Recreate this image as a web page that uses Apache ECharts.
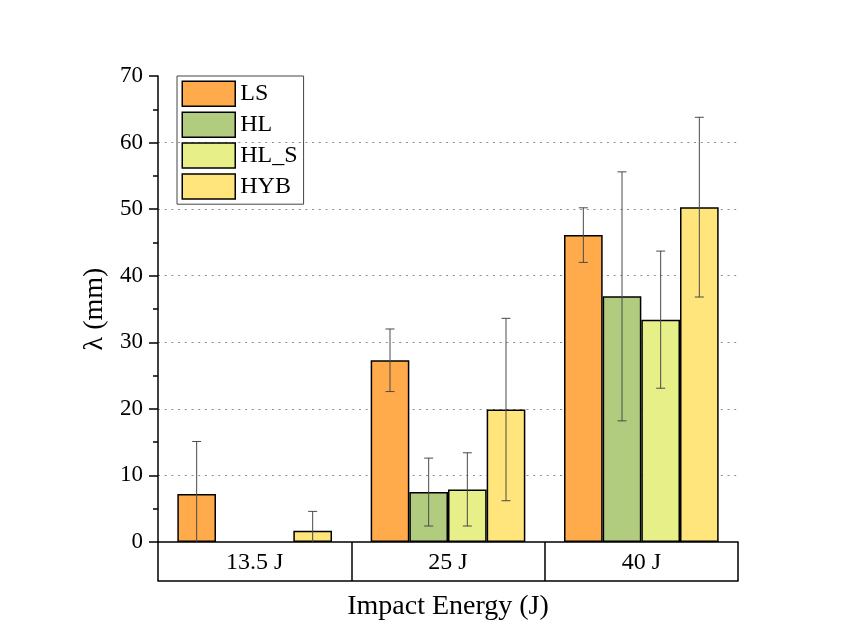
<!DOCTYPE html>
<html>
<head>
<meta charset="utf-8">
<script src="https://cdn.jsdelivr.net/npm/echarts@6/dist/echarts.min.js"></script>
<style>
  html, body { margin: 0; padding: 0; background: #ffffff; }
  #chart { width: 843px; height: 643px; }
</style>
</head>
<body>
<div id="chart"></div>
<script>
// Impact energy groups
const categories = ['13.5 J', '25 J', '40 J'];

// Mean λ (mm) per material, with standard deviation
const seriesNames = ['LS', 'HL', 'HL_S', 'HYB'];
const lsValues   = [7.2, 27.3, 46.1];
const lsErrors   = [7.9, 4.7, 4.1];
const hlValues   = [null, 7.5, 36.9];
const hlErrors   = [null, 5.1, 18.7];
const hlsValues  = [null, 7.9, 33.4];
const hlsErrors  = [null, 5.5, 10.3];
const hybValues  = [1.7, 19.9, 50.3];
const hybErrors  = [2.9, 13.7, 13.5];

const yTicks = [0, 10, 20, 30, 40, 50, 60, 70];

const colors = ['#FFAA4B', '#B1CC7F', '#E6EF88', '#FFE57B'];
const values = [lsValues, hlValues, hlsValues, hybValues];
const errors = [lsErrors, hlErrors, hlsErrors, hybErrors];

const FONT = 'Liberation Serif';
const BAR_SHARE = 0.2; // each bar is 20% of the category band (80% used by 4 bars)

const barSeries = seriesNames.map((name, k) => ({
  name: name,
  type: 'bar',
  data: values[k].map(v => (v === null ? '-' : v)),
  barGap: '0%',
  barCategoryGap: '20%',
  itemStyle: { color: colors[k], borderColor: '#000', borderWidth: 1.5 },
  z: 2
}));

const errorSeries = seriesNames.map((name, k) => ({
  name: name + ' error',
  type: 'custom',
  z: 3,
  silent: true,
  encode: { x: 0, y: 1 },
  data: values[k].map((v, i) => (v === null ? null : [i, v, errors[k][i]])).filter(d => d),
  renderItem: function (params, api) {
    const ci = api.value(0);
    const v = api.value(1);
    const e = api.value(2);
    const band = api.size([1, 0])[0];
    const bw = band * BAR_SHARE;
    const x = api.coord([ci, 0])[0] + (k - 1.5) * bw;
    const lo = Math.max(0, v - e);
    const yTop = api.coord([ci, v + e])[1];
    const yBot = api.coord([ci, lo])[1];
    const cap = 4.5;
    const style = { stroke: '#4a4a4a', lineWidth: 1 };
    const children = [
      { type: 'line', shape: { x1: x, y1: yTop, x2: x, y2: yBot }, style: style },
      { type: 'line', shape: { x1: x - cap, y1: yTop, x2: x + cap, y2: yTop }, style: style }
    ];
    if (v - e >= 0) {
      children.push({ type: 'line', shape: { x1: x - cap, y1: yBot, x2: x + cap, y2: yBot }, style: style });
    }
    return { type: 'group', children: children };
  }
}));

const chart = echarts.init(document.getElementById('chart'), null, { renderer: 'canvas' });

chart.setOption({
  backgroundColor: '#ffffff',
  animation: false,
  textStyle: { fontFamily: FONT },
  grid: { left: 158, right: 105, top: 76, bottom: 101 },
  legend: {
    data: seriesNames,
    orient: 'vertical',
    left: 177,
    top: 76,
    itemWidth: 53,
    itemHeight: 25,
    itemGap: 4.4,
    padding: [4.5, 6, 4.5, 4.5],
    borderColor: '#444',
    borderWidth: 1,
    icon: 'rect',
    itemStyle: { borderColor: '#000', borderWidth: 1.5 },
    textStyle: { fontFamily: FONT, fontSize: 24, color: '#000' }
  },
  xAxis: [
    {
      type: 'category',
      data: categories,
      position: 'bottom',
      name: 'Impact Energy (J)',
      nameLocation: 'middle',
      nameGap: 51,
      nameTextStyle: { fontFamily: FONT, fontSize: 28, color: '#000' },
      axisLine: { show: true, lineStyle: { color: '#000', width: 1.5 } },
      axisTick: { show: true, alignWithLabel: false, length: 39, lineStyle: { color: '#000', width: 1.5 } },
      axisLabel: { fontFamily: FONT, fontSize: 24, color: '#000', margin: 9 },
      splitLine: { show: false }
    },
    {
      type: 'category',
      data: categories,
      position: 'bottom',
      offset: 39,
      axisLine: { show: true, lineStyle: { color: '#000', width: 1.5 } },
      axisTick: { show: false },
      axisLabel: { show: false },
      splitLine: { show: false }
    }
  ],
  yAxis: {
    type: 'value',
    min: yTicks[0],
    max: yTicks[yTicks.length - 1],
    interval: yTicks[1] - yTicks[0],
    name: 'λ (mm)',
    nameLocation: 'middle',
    nameGap: 45,
    nameTextStyle: { fontFamily: FONT, fontSize: 28, color: '#000' },
    axisLine: { show: true, lineStyle: { color: '#000', width: 1.5 } },
    axisTick: { show: true, length: 9, lineStyle: { color: '#000', width: 1.5 } },
    minorTick: { show: true, splitNumber: 2, length: 5, lineStyle: { color: '#000', width: 1.5 } },
    axisLabel: { fontFamily: FONT, fontSize: 23, color: '#000', margin: 15 },
    splitLine: {
      show: true,
      lineStyle: {
        color: yTicks.map((t, i) => (i === 0 || i === yTicks.length - 1 ? 'rgba(0,0,0,0)' : '#8f8f8f')),
        width: 1.2,
        type: [2, 4.7]
      }
    }
  },
  series: barSeries.concat(errorSeries)
});
</script>
</body>
</html>
